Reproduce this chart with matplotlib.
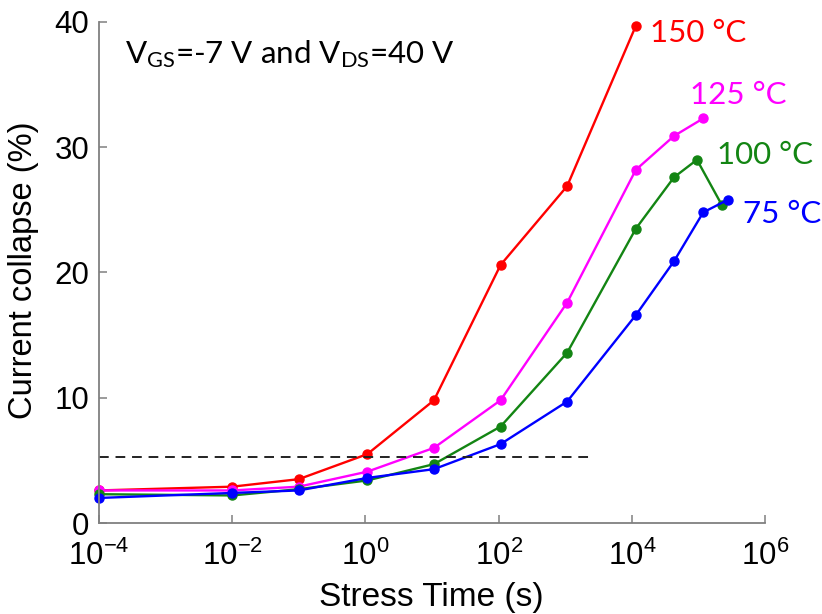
import numpy as np
import matplotlib
matplotlib.use("Agg")
matplotlib.rcParams.update({
    'font.family': 'Liberation Sans',
    'font.size': 22,
    'mathtext.fontset': 'custom',
    'mathtext.rm': 'Lato',
    'mathtext.it': 'Lato:italic',
    'mathtext.sf': 'Liberation Sans',
})
from matplotlib import pyplot as plt

# stress times (s)
t_base = [1e-4, 1e-2, 1e-1, 1.07, 10.7, 107, 1070, 11500]

# current collapse (%) per temperature
cc_150 = [2.6, 2.9, 3.5, 5.5, 9.8, 20.6, 26.9, 39.7]
t_150 = t_base

cc_125 = [2.6, 2.6, 2.9, 4.1, 6.0, 9.8, 17.6, 28.2, 30.9, 32.3]
t_125 = t_base + [43000, 118000]

cc_100 = [2.3, 2.2, 2.7, 3.4, 4.7, 7.7, 13.6, 23.5, 27.6, 29.0, 25.4]
t_100 = t_base + [43000, 95000, 224000]

cc_75 = [2.0, 2.4, 2.6, 3.6, 4.3, 6.3, 9.7, 16.6, 20.9, 24.8, 25.8]
t_75 = t_base + [43000, 118000, 275000]

series = [
    ('150 °C', t_150, cc_150, '#ff0000'),
    ('125 °C', t_125, cc_125, '#ff00ff'),
    ('100 °C', t_100, cc_100, '#138513'),
    ('75 °C', t_75, cc_75, '#0000ff'),
]
# inline label anchors (time, %), left edge / vertical centre
label_pos = [(19000, 39.1), (75000, 34.2), (190000, 29.4), (470000, 24.7)]

threshold = 5.3
threshold_span = [1e-4, 2400]

xticks = [1e-4, 1e-2, 1e0, 1e2, 1e4, 1e6]
xticklabels = [r'$\mathsf{10^{-4}}$', r'$\mathsf{10^{-2}}$', r'$\mathsf{10^{0}}$',
               r'$\mathsf{10^{2}}$', r'$\mathsf{10^{4}}$', r'$\mathsf{10^{6}}$']
yticks = [0, 10, 20, 30, 40]

fig = plt.figure(figsize=(8.22, 6.14), dpi=100)
ax = fig.add_axes([0.1204, 0.1482, 0.8103, 0.8160])

for (name, t, cc, col), (lx, ly) in zip(series, label_pos):
    ax.plot(t, cc, '-o', color=col, lw=1.7, ms=6.5, clip_on=False)
    ax.text(lx, ly, name, color=col, fontsize=22.5, family='Lato',
            ha='left', va='center')

ax.plot(threshold_span, [threshold, threshold], '--', color='#222222', lw=1.4,
        dashes=(5, 3.5))

ax.text(2.45e-4, 37.4, r'V$_{\rm GS}$=-7 V and V$_{\rm DS}$=40 V', fontsize=22.5,
        family='Lato', ha='left', va='center')

ax.set_xscale('log')
ax.set_xlim(1e-4, 1e6)
ax.set_ylim(0, 40)
ax.set_xticks(xticks)
ax.set_xticklabels(xticklabels)
ax.set_xticks([], minor=True)
ax.set_yticks(yticks)

for side in ['top', 'right']:
    ax.spines[side].set_visible(False)
for side in ['left', 'bottom']:
    ax.spines[side].set_color('#808080')
    ax.spines[side].set_linewidth(1.3)
ax.tick_params(direction='in', length=6, width=1.1, color='#808080',
               labelsize=22.5)
ax.tick_params(axis='x', pad=13)
ax.tick_params(axis='y', pad=7)

ax.set_xlabel('Stress Time (s)', fontsize=24)
ax.set_ylabel('Current collapse (%)', fontsize=23.5, va='center')
ax.xaxis.set_label_coords(0.499, -0.118)
ax.yaxis.set_label_coords(-0.113, 0.505)

plt.savefig('out.png', dpi=100)
